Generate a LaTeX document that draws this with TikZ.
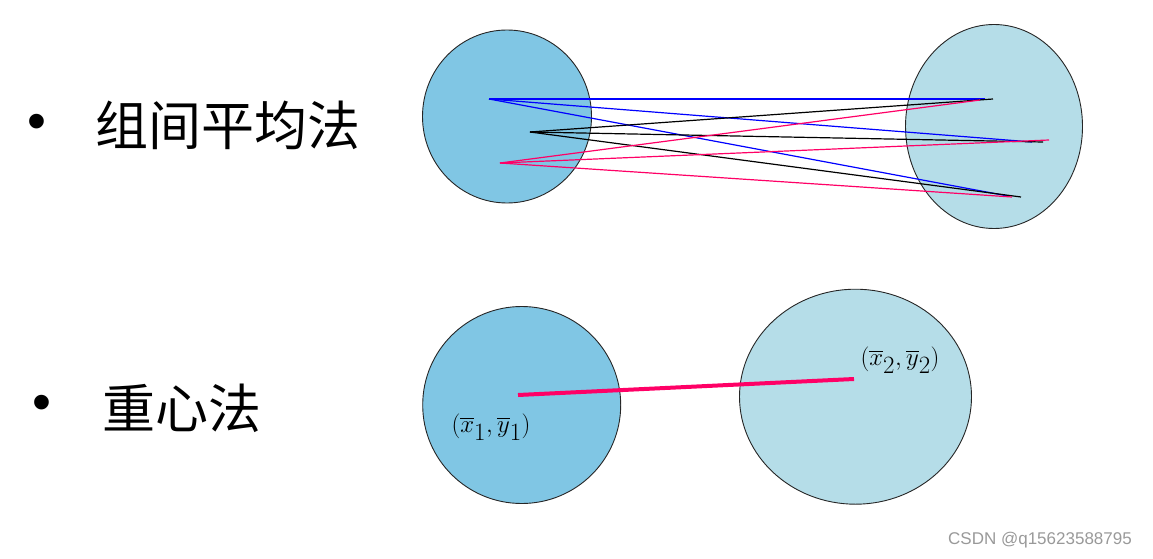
\documentclass[tikz,border=0pt]{standalone}
\usepackage{amsmath}
\usepackage{fontspec}
\setsansfont{Liberation Sans}
\newfontfamily\cjk{Noto Sans CJK SC}
\usetikzlibrary{shapes.geometric}
\definecolor{grpdark}{RGB}{128,198,228}
\definecolor{grplight}{RGB}{181,221,232}
\definecolor{linkpink}{RGB}{255,0,102}
\tikzset{
  grp/.style   ={ellipse, draw=black!85, line width=0.9pt, inner sep=0pt},
  title/.style ={font=\cjk\fontsize{53}{60}\selectfont, inner sep=0pt},
  dot/.style   ={font=\sffamily\fontsize{54}{60}\selectfont, inner sep=0pt},
  lnk/.style   ={line width=1.2pt},
  ctr/.style   ={font=\fontsize{34}{38}\selectfont, inner sep=0pt},
}
\begin{document}
\begin{tikzpicture}[x=1pt, y=-1pt]
  \useasboundingbox (0,0) rectangle (1153,559);
  % group average method (all pairwise links)
  \node[dot] (b1) at (37,127) {•};
  \node[title] (t1) at (228,125) {组间平均法};
  \node[grp, fill=grpdark, minimum width=169pt, minimum height=173pt] (ga) at (507,116.5) {};
  \node[grp, fill=grplight, minimum width=177pt, minimum height=204pt] (gb) at (994,126.5) {};
  % samples of the left group
  \coordinate (a1) at (489,99);
  \coordinate (a2) at (530,132);
  \coordinate (a3) at (500,163);
  % samples of the right group (end of each colour)
  \coordinate (u1) at (985,99);
  \coordinate (u2) at (1032,142);
  \coordinate (u3) at (1008,196);
  \coordinate (k1) at (993,99);
  \coordinate (k2) at (1043,142);
  \coordinate (k3) at (1021,197);
  \coordinate (p1) at (980,100);
  \coordinate (p2) at (1049,140);
  \coordinate (p3) at (1012,197);
  \foreach \e in {u1,u2,u3} \draw[lnk, blue] (a1) -- (\e);
  \foreach \e in {k1,k2,k3} \draw[lnk, black] (a2) -- (\e);
  \foreach \e in {p1,p2,p3} \draw[lnk, linkpink] (a3) -- (\e);
  % centroid method
  \node[dot] (b2) at (42,408) {•};
  \node[title] (t2) at (182,408) {重心法};
  \node[grp, fill=grpdark, minimum width=198pt, minimum height=197pt] (gc) at (521.7,405) {};
  \node[grp, fill=grplight, minimum width=232pt, minimum height=215pt] (gd) at (855.5,396.7) {};
  \coordinate (c1) at (518,395);
  \coordinate (c2) at (854,379);
  \draw[linkpink, line width=4pt] (c1) -- (c2);
  \node[ctr] (l1) at (491,427) {$\left(\overline{x}_1,\overline{y}_1\right)$};
  \node[ctr] (l2) at (900,360) {$\left(\overline{x}_2,\overline{y}_2\right)$};
  % watermark
  \node[font=\sffamily\fontsize{17}{20}\selectfont, text=black!40, inner sep=0pt] (wm) at (1040,540) {CSDN @q15623588795};
\end{tikzpicture}
\end{document}
